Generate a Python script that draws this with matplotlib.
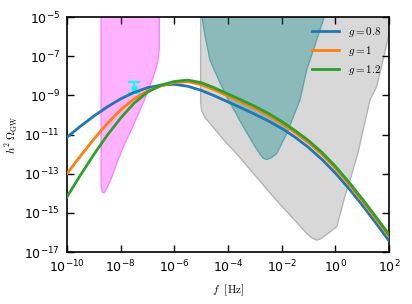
import numpy as np
import matplotlib
matplotlib.use('Agg')
import matplotlib.pyplot as plt
from matplotlib.ticker import FixedLocator, LogFormatterSciNotation, NullLocator

log_f = [-10, -9.5, -9, -8.5, -8, -7.5, -7, -6.5, -6, -5.5, -5, -4.5, -4,
         -3.5, -3, -2.5, -2, -1.5, -1, -0.5, 0, 0.5, 1, 1.5, 2]

# log10(h^2 Omega_GW) for each g
omega_g08 = [-11.14, -10.58, -10.06, -9.59, -9.18, -8.85, -8.61, -8.48, -8.435,
             -8.535, -8.745, -9.025, -9.335, -9.645, -9.965, -10.305, -10.685,
             -11.135, -11.66, -12.27, -12.97, -13.75, -14.60, -15.50, -16.43]
omega_g10 = [-13.00, -12.10, -11.24, -10.44, -9.74, -9.18, -8.78, -8.52, -8.34,
             -8.30, -8.45, -8.725, -9.035, -9.345, -9.665, -10.025, -10.435,
             -10.905, -11.415, -12.015, -12.725, -13.525, -14.385, -15.285, -16.205]
omega_g12 = [-14.18, -13.08, -12.02, -11.04, -10.16, -9.40, -8.84, -8.48, -8.29,
             -8.22, -8.35, -8.62, -8.93, -9.24, -9.56, -9.92, -10.33, -10.80,
             -11.31, -11.91, -12.62, -13.42, -14.28, -15.18, -16.10]
labels = [r'$g=0.8$', r'$g=1$', r'$g=1.2$']

# sensitivity regions (log10 f, log10 Omega)
pta_logf = [-6.56, -6.56, -6.62, -6.72, -6.85, -7.05, -7.28, -7.55, -7.84,
            -8.10, -8.33, -8.50, -8.62, -8.68, -8.72, -8.73, -8.73]
pta_logo = [-4, -6.6, -7.3, -7.8, -8.3, -9.0, -9.75, -10.6, -11.44,
            -12.3, -13.16, -13.7, -13.98, -13.95, -13.7, -13.0, -4]

gray_logf = [-5.02, -5.02, -4.98, -4.85, -4.67, -4.05, -3.80, -2.31, -1.07,
             -0.85, -0.69, -0.55, -0.35, 0.05, 0.40, 0.55, 0.85, 1.29, 1.54,
             1.98, 2.2, 2.2]
gray_logo = [-4, -9.3, -9.8, -10.15, -10.43, -11.45, -11.79, -14.18, -16.05,
             -16.3, -16.39, -16.33, -16.13, -15.71, -13.94, -13.32, -11.9,
             -9.24, -8.56, -6.01, -4.9, -4]

teal_logf = [-5.0, -4.97, -4.85, -4.67, -4.35, -4.05, -3.43, -3.0, -2.81,
             -2.68, -2.56, -2.40, -2.18, -1.81, -1.32, -1.07, -0.45, -0.30]
teal_logo = [-4, -5.0, -6.0, -7.2, -8.2, -9.07, -10.60, -11.6, -12.0,
             -12.22, -12.27, -12.2, -11.96, -10.94, -9.24, -7.71, -5.15, -4]

# signal point with asymmetric error
pt_logf = -7.51
pt_logo = -8.64
pt_up = -8.33
pt_lo = -8.88

fig = plt.figure(figsize=(4.12, 3.04), dpi=100)
ax = fig.add_axes([0.1626, 0.171, 0.7816, 0.773])

p10 = lambda v: np.power(10.0, np.array(v))

ax.fill(p10(gray_logf), p10(gray_logo), facecolor='gray', alpha=0.3,
        edgecolor='none', zorder=1)
ax.plot(p10(gray_logf), p10(gray_logo), color='#b4b4b4', lw=1, zorder=1)
ax.fill(p10(teal_logf), p10(teal_logo), facecolor='teal', alpha=0.35,
        edgecolor='none', zorder=2)
ax.plot(p10(teal_logf), p10(teal_logo), color='#5fa6a6', lw=1, zorder=2)
ax.fill(p10(pta_logf), p10(pta_logo), facecolor='magenta', alpha=0.3,
        edgecolor='none', zorder=2)
ax.plot(p10(pta_logf), p10(pta_logo), color='#ff80ff', lw=1, zorder=2)

yv = 10**pt_logo
ax.errorbar([10**pt_logf], [yv], yerr=[[yv - 10**pt_lo], [10**pt_up - yv]],
            fmt='o', color='cyan', ms=3.5, capsize=4, elinewidth=1.5,
            capthick=1.5, zorder=3)

cols = ['tab:blue', 'tab:orange', 'tab:green']
for om, lab, c in zip([omega_g08, omega_g10, omega_g12], labels, cols):
    ax.plot(p10(log_f), p10(om), color=c, lw=2, label=lab, zorder=4)

ax.set_xscale('log')
ax.set_yscale('log')
ax.set_xlim(1e-10, 1e2)
ax.set_ylim(1e-17, 1e-5)
ax.xaxis.set_major_locator(FixedLocator([10.0**k for k in range(-10, 3, 2)]))
ax.yaxis.set_major_locator(FixedLocator([10.0**k for k in range(-17, -4, 2)]))
ax.xaxis.set_minor_locator(NullLocator())
ax.yaxis.set_minor_locator(NullLocator())
ax.xaxis.set_major_formatter(LogFormatterSciNotation())
ax.yaxis.set_major_formatter(LogFormatterSciNotation())
ax.tick_params(direction='in', top=True, right=True, length=5, width=1,
               labelsize=9, pad=5)
for s in ax.spines.values():
    s.set_linewidth(1.2)

ax.set_xlabel(r'$f\ \ [\mathrm{Hz}]$', fontsize=8, math_fontfamily='cm')
ax.set_ylabel(r'$h^2\,\Omega_{\rm GW}$', fontsize=8, math_fontfamily='cm')
ax.yaxis.set_label_coords(-0.145, 0.5)
ax.xaxis.set_label_coords(0.5, -0.13)

leg = ax.legend(loc='upper right', frameon=False, fontsize=8,
                handlelength=2.4, borderaxespad=0.3, labelspacing=0.45)
for t in leg.get_texts():
    t.set_math_fontfamily('cm')

fig.savefig('out.png', dpi=100)
